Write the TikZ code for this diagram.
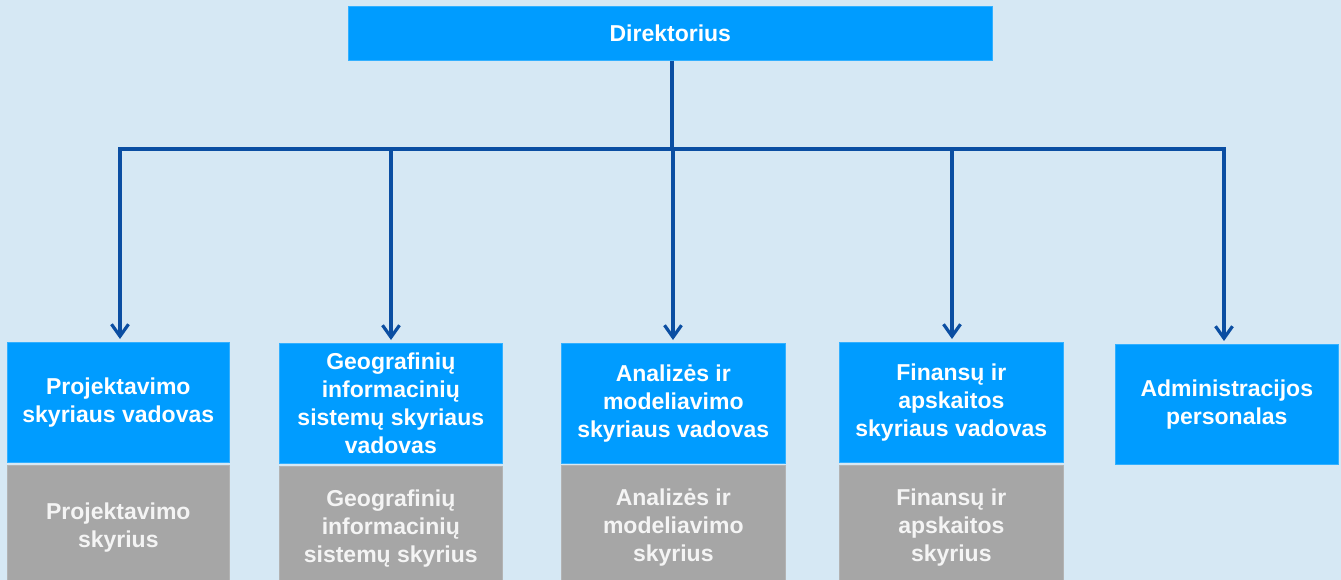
\documentclass[tikz,border=0pt]{standalone}
\usepackage{fontspec}
\setmainfont{Liberation Sans}
\usetikzlibrary{arrows.meta}
\definecolor{bg}{HTML}{D6E8F4}
\definecolor{boxblue}{HTML}{009CFF}
\definecolor{boxgray}{HTML}{A6A6A6}
\definecolor{linkblue}{HTML}{0B4EA2}
\definecolor{graytext}{HTML}{F4F4F4}
\tikzset{
  headbox/.style={fill=boxblue, draw=boxblue!80!white, line width=0.6pt, inner sep=0pt, text=white,
    font=\fontsize{23}{28}\selectfont\bfseries, align=center, anchor=north west},
  unitbox/.style={fill=boxgray, draw=boxgray!85!white, line width=0.6pt, inner sep=0pt, text=graytext,
    font=\fontsize{23}{28}\selectfont\bfseries, align=center, anchor=north west},
  link/.style={draw=linkblue, line width=3.2pt},
  arrowlink/.style={link, -{Straight Barb[length=12pt,width=17pt,line width=3.2pt]}}
}
\begin{document}
\begin{tikzpicture}[x=1pt,y=-1pt]
\useasboundingbox (0,0) rectangle (1341,580);
\clip (0,0) rectangle (1341,580);
\fill[bg] (0,0) rectangle (1341,580);
% top
\node[headbox, minimum width=644pt, minimum height=54pt] (dir) at (348,6) {Direktorius};
% heads
\node[headbox, minimum width=222pt, minimum height=120pt] (h1) at (7,342) {Projektavimo\\skyriaus vadovas};
\node[headbox, minimum width=223pt, minimum height=120pt] (h2) at (279,343) {Geografinių\\informacinių\\sistemų skyriaus\\vadovas};
\node[headbox, minimum width=224pt, minimum height=120pt] (h3) at (561,343) {Analizės ir\\modeliavimo\\skyriaus vadovas};
\node[headbox, minimum width=224pt, minimum height=120pt] (h4) at (839,342) {Finansų ir\\apskaitos\\skyriaus vadovas};
\node[headbox, minimum width=223pt, minimum height=120pt] (h5) at (1115,344) {Administracijos\\personalas};
% units
\node[unitbox, minimum width=222pt, minimum height=124pt] (u1) at (7,465) {Projektavimo\\skyrius};
\node[unitbox, minimum width=223pt, minimum height=124pt] (u2) at (279,466) {Geografinių\\informacinių\\sistemų skyrius};
\node[unitbox, minimum width=224pt, minimum height=124pt] (u3) at (561,465) {Analizės ir\\modeliavimo\\skyrius};
\node[unitbox, minimum width=224pt, minimum height=124pt] (u4) at (839,465) {Finansų ir\\apskaitos\\skyrius};
% connectors
\coordinate (bus) at (672,149);
\coordinate (b1) at (120,149);
\coordinate (b2) at (391,149);
\coordinate (b3) at (673,149);
\coordinate (b4) at (952,149);
\coordinate (b5) at (1224,149);
\draw[link] (dir.south -| bus) -- (bus);
\draw[link, line cap=rect] (b1) -- (b5);
\draw[arrowlink] (b1) -- ([yshift=3pt]b1 |- h1.north);
\draw[arrowlink] (b2) -- ([yshift=3pt]b2 |- h2.north);
\draw[arrowlink] (b3) -- ([yshift=3pt]b3 |- h3.north);
\draw[arrowlink] (b4) -- ([yshift=3pt]b4 |- h4.north);
\draw[arrowlink] (b5) -- ([yshift=3pt]b5 |- h5.north);
\end{tikzpicture}
\end{document}
